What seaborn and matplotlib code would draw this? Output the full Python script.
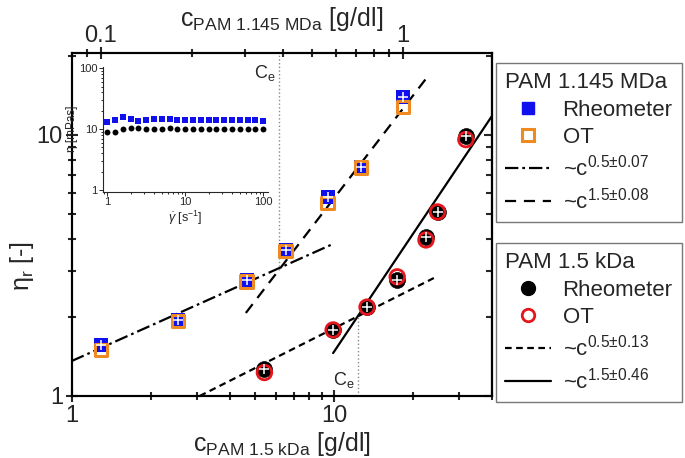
import matplotlib
matplotlib.use('Agg')
import matplotlib.pyplot as plt
from matplotlib.lines import Line2D
from matplotlib.ticker import FuncFormatter, NullFormatter
import seaborn as sns

# PAM 1.145 MDa (top axis, c in g/dl)
c_mda = [0.100, 0.180, 0.304, 0.409, 0.563, 0.727, 1.00]
eta_mda_rheo = [1.57, 1.95, 2.78, 3.62, 5.80, 7.56, 14.0]
eta_mda_ot = [1.50, 1.94, 2.75, 3.60, 5.49, 7.50, 12.8]

# PAM 1.5 kDa (bottom axis, c in g/dl)
c_kda = [5.42, 9.91, 13.35, 17.4, 22.4, 24.8, 31.8]
eta_kda_rheo = [1.27, 1.79, 2.19, 2.78, 4.07, 5.07, 9.9]
eta_kda_ot = [1.23, 1.79, 2.19, 2.86, 3.96, 5.07, 9.6]

# power-law fits (end points)
fit_mda_05_x, fit_mda_05_y = [0.08, 0.586], [1.36, 3.82]
fit_mda_15_x, fit_mda_15_y = [0.302, 1.21], [2.08, 16.8]
fit_kda_05_x, fit_kda_05_y = [3.07, 24.0], [1.0, 2.83]
fit_kda_15_x, fit_kda_15_y = [9.91, 45.0], [1.46, 14.1]

# entanglement concentrations
ce_mda, ce_mda_eta = 0.39, 3.05
ce_kda, ce_kda_eta = 12.3, 2.02

# inset: viscosity vs shear rate
shear = [1.0, 1.26, 1.58, 2.0, 2.51, 3.16, 3.98, 5.01, 6.31, 7.94, 10.0,
         12.6, 15.8, 20.0, 25.1, 31.6, 39.8, 50.1, 63.1, 79.4, 100.0]
visc_mda = [12.9, 14.2, 15.8, 14.6, 13.4, 13.9, 14.8, 14.8, 14.6, 14.2, 14.2,
            14.2, 14.2, 14.2, 14.2, 14.1, 14.1, 14.1, 13.9, 13.9, 13.7]
visc_kda = [9.15, 8.92, 10.1, 10.3, 10.6, 10.0, 10.0, 10.0, 10.4, 10.0, 10.2,
            10.0, 10.0, 10.0, 10.0, 10.0, 10.0, 10.0, 10.0, 10.0, 10.0]

legend_mda = ['Rheometer', 'OT', r'~$\mathrm{c}^{0.5{\pm}0.07}$', r'~$\mathrm{c}^{1.5{\pm}0.08}$']
legend_kda = ['Rheometer', 'OT', r'~$\mathrm{c}^{0.5{\pm}0.13}$', r'~$\mathrm{c}^{1.5{\pm}0.46}$']

BLUE = '#1010ee'
ORANGE = '#ef8a22'
RED = '#e4161c'
DASHDOT = (0, (6, 1.8, 1.2, 1.8))
LONGDASH = (0, (5, 3.5))
SHORTDASH = (0, (3, 2))

sns.set_style('ticks')
plt.rcParams['font.family'] = ['Liberation Sans', 'DejaVu Sans']
plt.rcParams['mathtext.fontset'] = 'custom'
plt.rcParams['mathtext.rm'] = 'Liberation Sans'
plt.rcParams['mathtext.it'] = 'Liberation Sans:italic'
plt.rcParams['mathtext.bf'] = 'Liberation Sans:bold'

fig = plt.figure(figsize=(6.85, 4.58), dpi=100)
ax = fig.add_axes([0.1051, 0.1354, 0.6131, 0.7489])
ax.set_xscale('log')
ax.set_yscale('log')

ax2 = ax.twiny()
ax2.set_xscale('log')

fmt = FuncFormatter(lambda v, p: '{:g}'.format(v))

# 1.5 kDa on bottom axis
sns.lineplot(x=fit_kda_05_x, y=fit_kda_05_y, ax=ax, color='black', lw=1.6, linestyle=SHORTDASH)
sns.lineplot(x=fit_kda_15_x, y=fit_kda_15_y, ax=ax, color='black', lw=1.6)
ax.plot([ce_kda, ce_kda], [1, ce_kda_eta], color='#8a8a8a', lw=1.0, ls=':')
ax.text(ce_kda * 0.975, 1.15, r'C$_\mathrm{e}$', ha='right', va='center', fontsize=13)
sns.scatterplot(x=c_kda, y=eta_kda_rheo, ax=ax, marker='o', s=130, color='black',
                edgecolor='black', linewidth=0.5, zorder=3)
sns.scatterplot(x=c_kda, y=eta_kda_ot, ax=ax, marker='o', s=110, facecolor='none',
                edgecolor=RED, linewidth=2.0, zorder=4)
sns.scatterplot(x=c_kda, y=eta_kda_rheo, ax=ax, marker='+', s=45, color='white',
                linewidth=1.1, zorder=5)

# 1.145 MDa on top axis
sns.lineplot(x=fit_mda_05_x, y=fit_mda_05_y, ax=ax2, color='black', lw=1.6, linestyle=DASHDOT)
sns.lineplot(x=fit_mda_15_x, y=fit_mda_15_y, ax=ax2, color='black', lw=1.6, linestyle=LONGDASH)
ax2.plot([ce_mda, ce_mda], [ce_mda_eta, 20.6], color='#8a8a8a', lw=1.0, ls=':')
ax2.text(ce_mda * 0.97, 17.3, r'C$_\mathrm{e}$', ha='right', va='center', fontsize=13, zorder=10)
sns.scatterplot(x=c_mda, y=eta_mda_rheo, ax=ax2, marker='s', s=95, color=BLUE,
                edgecolor=BLUE, linewidth=0, zorder=3)
sns.scatterplot(x=c_mda, y=eta_mda_ot, ax=ax2, marker='s', s=80, facecolor='none',
                edgecolor=ORANGE, linewidth=2.2, zorder=4)
sns.scatterplot(x=c_mda, y=eta_mda_rheo, ax=ax2, marker='+', s=45, color='white',
                linewidth=1.1, zorder=5)

ax.set_xlim(1, 40)
ax.set_ylim(1, 20.6)
ax2.set_xlim(0.0803, 1.97)

for a in (ax, ax2):
    for sp in a.spines.values():
        sp.set_linewidth(1.5)
        sp.set_color('black')

ax.xaxis.set_major_formatter(fmt)
ax.xaxis.set_minor_formatter(NullFormatter())
ax.yaxis.set_major_formatter(fmt)
ax.yaxis.set_minor_formatter(NullFormatter())
ax2.xaxis.set_major_formatter(fmt)
ax2.xaxis.set_minor_formatter(NullFormatter())

ax.tick_params(axis='x', which='both', top=False, bottom=True, direction='inout', width=1.5, labelsize=17, pad=2)
ax.tick_params(axis='y', which='both', left=True, right=False, direction='inout', width=1.5, labelsize=17, pad=2)
ax.tick_params(which='major', length=9)
ax.tick_params(which='minor', length=6)
ax2.tick_params(axis='x', which='both', direction='inout', width=1.5, labelsize=17, pad=0)
ax2.tick_params(which='major', length=9)
ax2.tick_params(which='minor', length=6)

sec = ax.secondary_yaxis('right')
sec.tick_params(which='both', direction='in', width=1.5, labelright=False)
sec.tick_params(which='major', length=6)
sec.tick_params(which='minor', length=4)
sec.spines['right'].set_linewidth(1.5)

ax.set_xlabel(r'c$_\mathrm{PAM\ 1.5\ kDa}$ [g/dl]', fontsize=18, labelpad=2)
ax2.set_xlabel(r'c$_\mathrm{PAM\ 1.145\ MDa}$ [g/dl]', fontsize=18, labelpad=-1)
ax.set_ylabel(r'η$_\mathrm{r}$ [-]', fontsize=18)
ax.yaxis.set_label_coords(-0.085, 0.38)

# inset
ins = fig.add_axes([0.1508, 0.5814, 0.2404, 0.273])
ins.patch.set_visible(False)
ins.set_xscale('log')
ins.set_yscale('log')
sns.scatterplot(x=shear, y=visc_mda, ax=ins, marker='s', s=16, color=BLUE, linewidth=0)
sns.scatterplot(x=shear, y=visc_kda, ax=ins, marker='o', s=18, color='black', linewidth=0)
ins.set_xlim(0.89, 115)
ins.set_ylim(0.94, 106)
ins.spines['top'].set_visible(False)
ins.spines['right'].set_visible(False)
for sp in ('left', 'bottom'):
    ins.spines[sp].set_linewidth(0.8)
ins.xaxis.set_major_formatter(fmt)
ins.yaxis.set_major_formatter(fmt)
ins.xaxis.set_minor_formatter(NullFormatter())
ins.yaxis.set_minor_formatter(NullFormatter())
ins.tick_params(which='both', labelsize=8, width=0.7, pad=1)
ins.tick_params(which='major', length=3)
ins.tick_params(which='minor', length=1.5)
ins.set_xlabel(r'$\dot{\gamma}$ [s$^{-1}$]', fontsize=9, labelpad=1)
ins.set_ylabel('η [mPas]', fontsize=8.5)
ins.yaxis.set_label_coords(-0.155, 0.5)

# legends
h_mda = [Line2D([], [], marker='s', ls='none', color=BLUE, ms=9),
         Line2D([], [], marker='s', ls='none', mfc='none', mec=ORANGE, mew=2.2, ms=8),
         Line2D([], [], color='black', lw=1.6, ls=DASHDOT),
         Line2D([], [], color='black', lw=1.6, ls=LONGDASH)]
h_kda = [Line2D([], [], marker='o', ls='none', color='black', ms=10),
         Line2D([], [], marker='o', ls='none', mfc='none', mec=RED, mew=2.0, ms=9),
         Line2D([], [], color='black', lw=1.6, ls=SHORTDASH),
         Line2D([], [], color='black', lw=1.6)]

leg_kw = dict(loc='upper left', mode='expand', fontsize=16, title_fontsize=16,
              frameon=True, fancybox=False, edgecolor='#777777', framealpha=1,
              handlelength=2.1, handletextpad=0.5, borderaxespad=0, labelspacing=0.3,
              borderpad=0.4, alignment='left')
leg1 = fig.legend(h_mda, legend_mda, title='PAM 1.145 MDa',
                  bbox_to_anchor=(0.724, 0.50, 0.272, 0.3624), **leg_kw)
leg2 = fig.legend(h_kda, legend_kda, title='PAM 1.5 kDa',
                  bbox_to_anchor=(0.724, 0.10, 0.272, 0.3694), **leg_kw)
for leg in (leg1, leg2):
    leg.get_frame().set_linewidth(1.0)

fig.savefig('out.png', dpi=100)
